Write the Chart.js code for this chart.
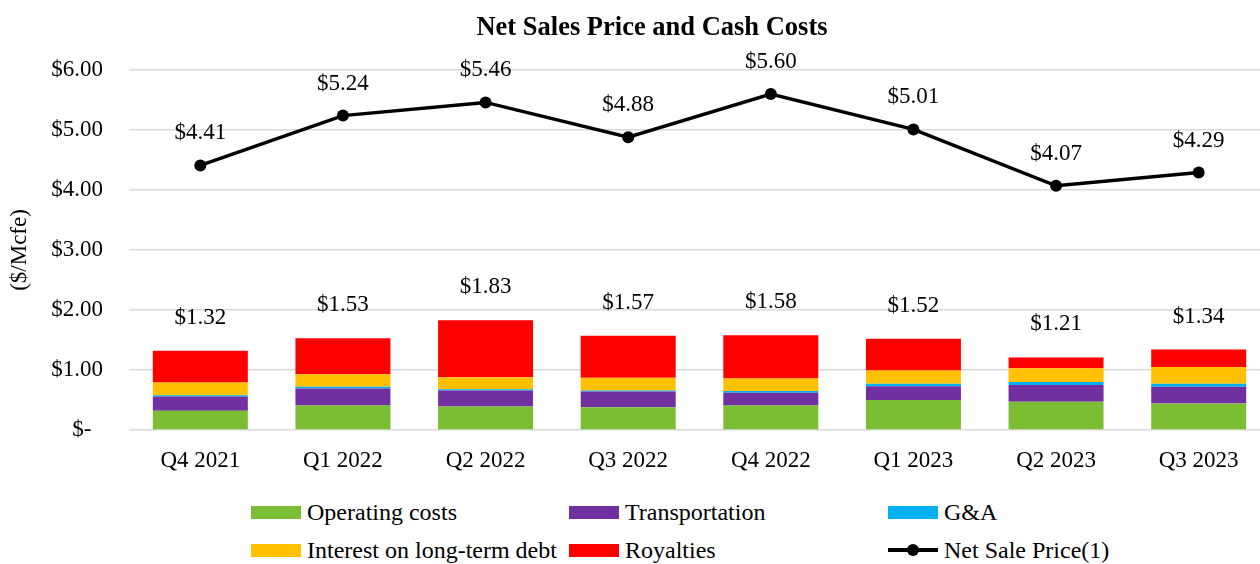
<!DOCTYPE html>
<html>
<head>
<meta charset="utf-8">
<script src="https://cdn.jsdelivr.net/npm/chart.js@4/dist/chart.umd.min.js"></script>
<style>
  html, body { margin: 0; padding: 0; background: #fff; overflow: hidden; }
  #wrap { position: relative; width: 1260px; height: 564px; overflow: hidden; }
  #chart { position: absolute; left: 0; top: 0; }
  .leg { position: absolute; display: flex; align-items: center; height: 28px;
         font-family: 'Liberation Serif', 'Times New Roman', serif; font-size: 24px; color: #000; white-space: nowrap; }
  .leg .sw { width: 50px; height: 13px; margin-right: 6px; position: relative; }
  .leg .ln { width: 50px; height: 4px; background: #000; margin-right: 6px; position: relative; }
  .leg .ln::after { content: ''; position: absolute; left: 19px; top: -4px; width: 12px; height: 12px; border-radius: 50%; background: #000; }
</style>
</head>
<body>
<div id="wrap">
  <canvas id="chart" width="1304" height="490"></canvas>
  <div id="legend"></div>
</div>
<script>
const chartTitle = 'Net Sales Price and Cash Costs';
const quarters = ['Q4 2021', 'Q1 2022', 'Q2 2022', 'Q3 2022', 'Q4 2022', 'Q1 2023', 'Q2 2023', 'Q3 2023'];
const operatingCosts = [0.32, 0.41, 0.39, 0.38, 0.41, 0.50, 0.47, 0.44];
const transportation = [0.24, 0.28, 0.27, 0.26, 0.21, 0.23, 0.28, 0.28];
const gna = [0.02, 0.03, 0.02, 0.02, 0.03, 0.04, 0.05, 0.05];
const interestDebt = [0.21, 0.21, 0.20, 0.21, 0.21, 0.22, 0.23, 0.28];
const royalties = [0.53, 0.60, 0.95, 0.70, 0.72, 0.53, 0.18, 0.29];
const netSalePrice = [4.41, 5.24, 5.46, 4.88, 5.60, 5.01, 4.07, 4.29];
const yTicks = [0, 1, 2, 3, 4, 5, 6];

const serif = "'Liberation Serif', 'Times New Roman', serif";
const money = v => '$' + v.toFixed(2);

// title + value labels over the line points and bar totals
const valueLabels = {
  id: 'valueLabels',
  afterDatasetsDraw(chart) {
    const ctx = chart.ctx;
    ctx.save();
    ctx.fillStyle = '#000';
    ctx.textAlign = 'center';
    ctx.textBaseline = 'middle';
    ctx.font = 'bold 26.5px ' + serif;
    ctx.fillText(chartTitle, 652, 28.5);
    ctx.font = '23px ' + serif;
    const lineMeta = chart.getDatasetMeta(5);
    lineMeta.data.forEach((pt, i) => ctx.fillText(money(netSalePrice[i]), pt.x, pt.y - 32));
    const topMeta = chart.getDatasetMeta(4);
    topMeta.data.forEach((bar, i) => {
      const total = operatingCosts[i] + transportation[i] + gna[i] + interestDebt[i] + royalties[i];
      ctx.fillText(money(total), bar.x, bar.y - 33);
    });
    ctx.restore();
  }
};

const barSet = (label, data, color) => ({
  type: 'bar', label, data, backgroundColor: color, stack: 'costs', order: 1,
  categoryPercentage: 1, barPercentage: 0.666
});

const chart = new Chart(document.getElementById('chart'), {
  data: {
    labels: quarters,
    datasets: [
      barSet('Operating costs', operatingCosts, '#7BBD33'),
      barSet('Transportation', transportation, '#7030A0'),
      barSet('G&A', gna, '#00B0F0'),
      barSet('Interest on long-term debt', interestDebt, '#FFC000'),
      barSet('Royalties', royalties, '#FF0000'),
      { type: 'line', label: 'Net Sale Price(1)', data: netSalePrice, stack: 'price', order: 0,
        borderColor: '#000', backgroundColor: '#000', borderWidth: 3.5,
        pointRadius: 6, pointBackgroundColor: '#000', pointBorderWidth: 0, tension: 0 }
    ]
  },
  options: {
    responsive: false, animation: false, devicePixelRatio: 1,
    layout: { padding: { left: 0, right: 34, top: 70, bottom: 0 } },
    plugins: {
      legend: { display: false },
      tooltip: { enabled: false },
      title: { display: false }
    },
    scales: {
      x: {
        stacked: true,
        grid: { display: false }, border: { display: false },
        ticks: { color: '#000', font: { family: serif, size: 23 }, padding: 9 },
        afterFit: s => { s.height = 60; }
      },
      y: {
        stacked: true, min: 0, max: 6,
        afterBuildTicks: s => { s.ticks = yTicks.map(v => ({ value: v })); },
        grid: { color: '#d9d9d9', lineWidth: 1.5, drawTicks: false }, border: { display: false },
        ticks: { color: '#000', font: { family: serif, size: 23 }, padding: 26,
                 callback: v => v === 0 ? '$-  ' : money(v) },
        title: { display: true, text: '($/Mcfe)', color: '#000', font: { family: serif, size: 23 }, padding: { top: 6, bottom: 0 } },
        afterFit: s => { s.width = 129; }
      }
    }
  },
  plugins: [valueLabels]
});

// legend in three columns, two rows
const legendBox = document.getElementById('legend');
const cols = [251, 569, 888];
const rows = [498, 536];
chart.data.datasets.forEach((ds, i) => {
  const item = document.createElement('div');
  item.className = 'leg';
  item.style.left = cols[i % 3] + 'px';
  item.style.top = rows[Math.floor(i / 3)] + 'px';
  const mark = document.createElement('span');
  if (ds.type === 'line') {
    mark.className = 'ln';
  } else {
    mark.className = 'sw';
    mark.style.background = ds.backgroundColor;
  }
  item.appendChild(mark);
  item.appendChild(document.createTextNode(ds.label));
  legendBox.appendChild(item);
});
</script>
</body>
</html>
